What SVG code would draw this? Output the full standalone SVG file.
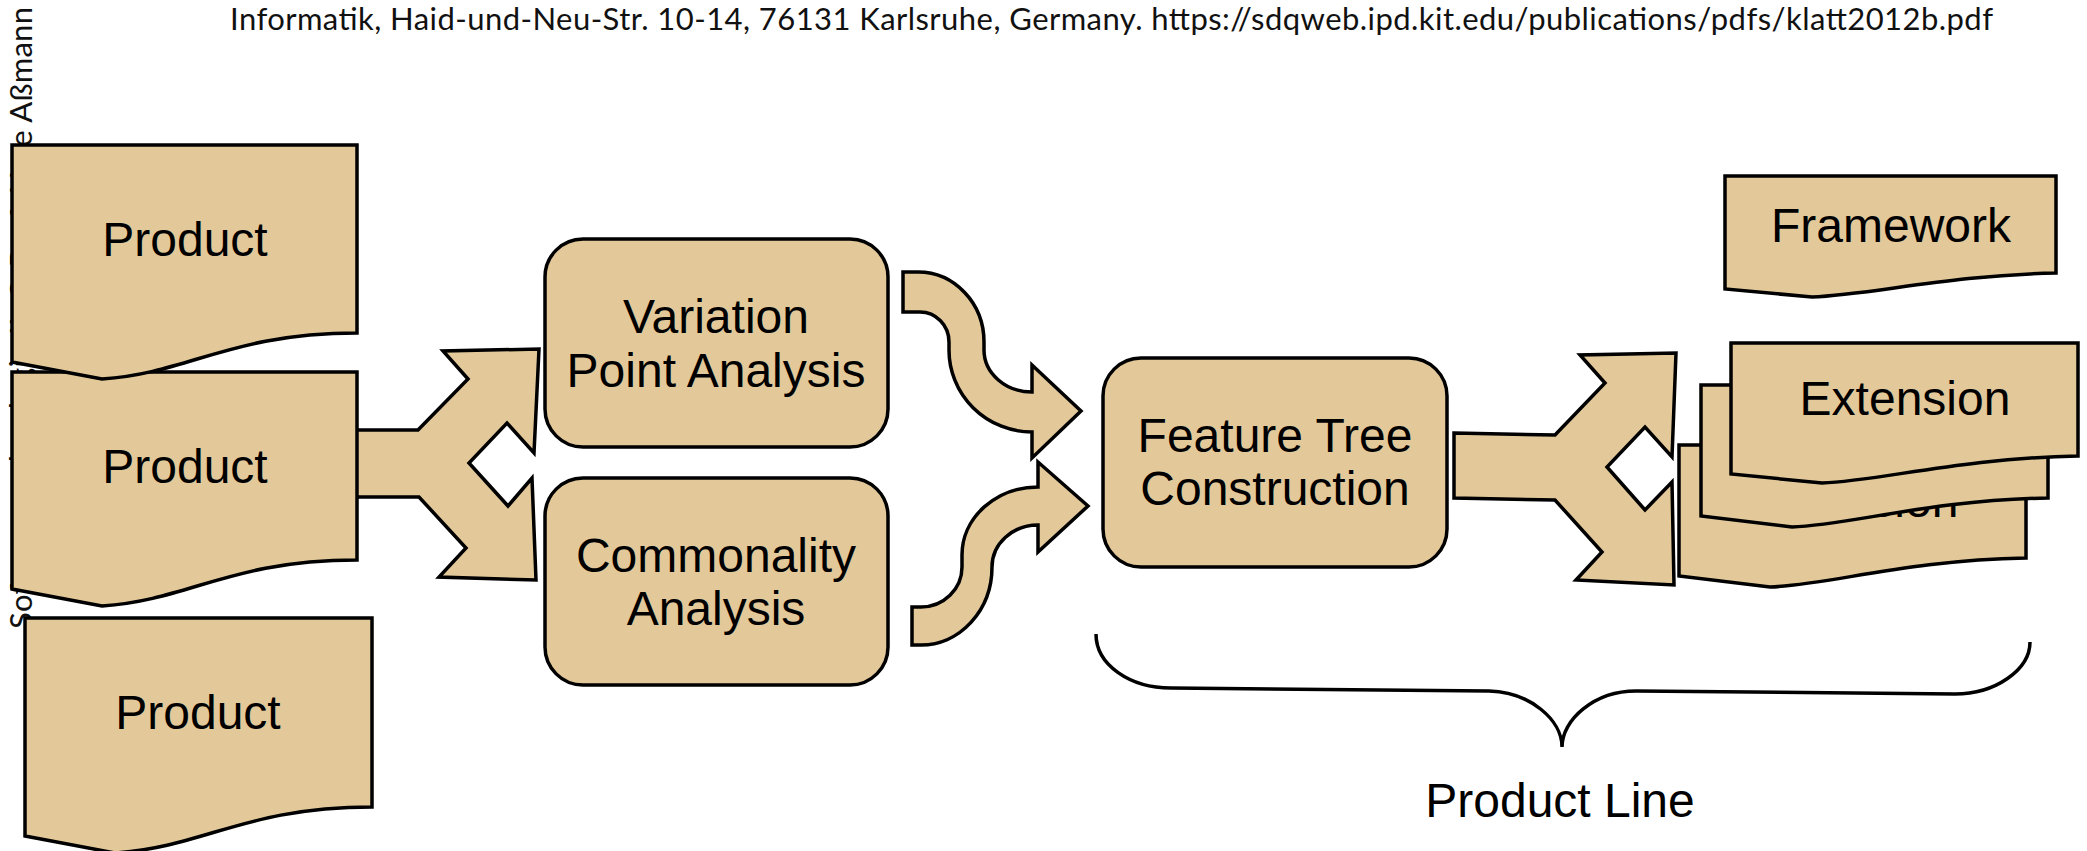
<svg xmlns="http://www.w3.org/2000/svg" width="2087" height="851" viewBox="0 0 2087 851">
<style>
.shape{fill:#E3C99A;stroke:#000;stroke-width:3.5;stroke-linejoin:miter}
.lbl{font-family:"Liberation Sans",Arial,sans-serif;font-size:48px;fill:#000;text-anchor:middle}
.note{font-family:Lato,"Noto Sans",sans-serif;font-size:31px;fill:#111}
.brace{fill:none;stroke:#000;stroke-width:3.5}
</style>
<rect width="2087" height="851" fill="#fff"/>
<text class="note" x="230" y="30" textLength="1763" lengthAdjust="spacing">Informatik, Haid-und-Neu-Str. 10-14, 76131 Karlsruhe, Germany. https://sdqweb.ipd.kit.edu/publications/pdfs/klatt2012b.pdf</text>
<text class="note" transform="translate(32,629) rotate(-90)" textLength="622" lengthAdjust="spacing">Softwaretechnologie II, © Prof. Uwe Aßmann</text>
<g id="connectors">
<path class="shape" d="M355 430 L418 430 L468 379 L443 351 L539 349 L534 453 L507 423 L469 463 L508 506 L532 478 L536 580 L439 577 L466 548 L419 497 L355 497 Z"/>
<path class="shape" d="M903 272 L918 272 A66 70 0 0 1 984 342 L984 350 A48 42 0 0 0 1032 392 L1032 365 L1081 411 L1032 458 L1032 432 A83 82 0 0 1 949 350 L949 342 A29 30 0 0 0 920 312 L903 312 Z"/>
<path class="shape" d="M912 607 L921 607 A41 40 0 0 0 962 567 L962 555 A76 68 0 0 1 1038 487 L1038 462 L1088 506 L1038 552 L1038 525 A46 42 0 0 0 992 567 A71 78 0 0 1 921 645 L912 645 Z"/>
<path class="shape" d="M1454 433 L1555 435 L1605 383 L1580 355 L1676 353 L1672 457 L1645 427 L1607 467 L1645 510 L1672 482 L1674 585 L1576 580 L1602 552 L1555 500 L1454 498 Z"/>
<path class="brace" d="M1096 634 C1096 665 1130 688 1171 688 L1489 691 C1530 692 1562 720 1562 747 C1562 720 1594 691 1636 691 L1955 694 C1995 694 2030 670 2030 642"/>
</g>
<g id="product2">
<path class="shape" d="M12 372 L357 372 L357 560 C230 560 190 600 102 606 L12 589 Z"/>
<text class="lbl" x="185" y="483">Product</text>
</g>
<g id="product1">
<path class="shape" d="M12 145 L357 145 L357 333 C230 333 190 373 102 379 L12 362 Z"/>
<text class="lbl" x="185" y="256">Product</text>
</g>
<g id="product3">
<path class="shape" d="M25 618 L372 618 L372 807 C245 807 205 847 115 853 L25 836 Z"/>
<text class="lbl" x="198" y="729">Product</text>
</g>
<g id="variation">
<rect class="shape" x="545" y="239" width="343" height="208" rx="38" ry="38"/>
<text class="lbl" x="716" y="333">Variation</text>
<text class="lbl" x="716" y="387">Point Analysis</text>
</g>
<g id="commonality">
<rect class="shape" x="545" y="478" width="343" height="207" rx="38" ry="38"/>
<text class="lbl" x="716" y="572">Commonality</text>
<text class="lbl" x="716" y="625">Analysis</text>
</g>
<g id="feature">
<rect class="shape" x="1103" y="358" width="344" height="209" rx="38" ry="38"/>
<text class="lbl" x="1275" y="452">Feature Tree</text>
<text class="lbl" x="1275" y="505">Construction</text>
</g>
<g id="framework">
<path class="shape" d="M1725 176 L2056 176 L2056 273 C1950 275 1870 295 1812 297 L1725 289 Z"/>
<text class="lbl" x="1891" y="242">Framework</text>
</g>
<g id="extension-back">
<path class="shape" d="M1679 445 L2026 445 L2026 558 C1908 560 1828 585 1770 587 L1679 576 Z"/>
<text class="lbl" x="1853" y="517">Extension</text>
</g>
<g id="extension-middle">
<path class="shape" d="M1701 385 L2048 385 L2048 498 C1930 500 1850 525 1792 527 L1701 516 Z"/>
</g>
<g id="extension-front">
<path class="shape" d="M1731 343 L2078 343 L2078 456 C1960 458 1880 481 1822 483 L1731 474 Z"/>
<text class="lbl" x="1905" y="415">Extension</text>
</g>
<text class="lbl" x="1560" y="817">Product Line</text>
</svg>
